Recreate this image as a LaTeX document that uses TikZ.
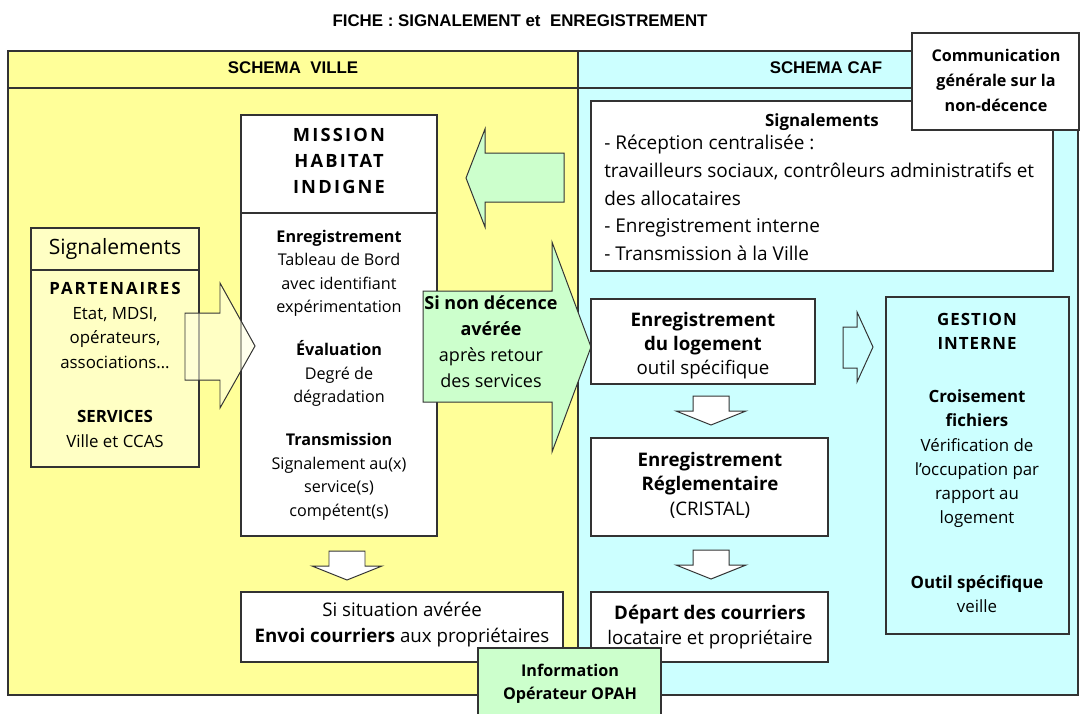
\documentclass[tikz,border=0pt]{standalone}
\usepackage{fontspec}
\setmainfont{Open Sans}
\newfontfamily\titlefont{Liberation Sans}
\usepackage{xcolor}

\definecolor{villeyellow}{HTML}{FFFF99}
\definecolor{cafcyan}{HTML}{CCFFFF}
\definecolor{opahgreen}{HTML}{CCFFCC}
\definecolor{signalyellow}{HTML}{FFFFC4}
\definecolor{edgegray}{HTML}{333333}

\tikzset{
  panel/.style={draw=edgegray, line width=0.9pt},
  box/.style={draw=edgegray, fill=white, line width=0.9pt},
  txt/.style={align=center, inner sep=0pt, font=\fontsize{11.5}{16.7}\selectfont},
  heading/.style={inner sep=0pt, font=\titlefont\bfseries\fontsize{12}{14}\selectfont},
  fatarrow/.style={draw=edgegray, line width=0.7pt, line join=miter},
}

\begin{document}
\begin{tikzpicture}[x=0.025cm, y=-0.025cm]
  \useasboundingbox (0,0) rectangle (1082,713);

  % the two panels
  \draw[panel, fill=villeyellow] (8,51) rectangle (578,695);
  \draw[panel, fill=cafcyan] (578,51) rectangle (1078,695);
  \draw[panel] (8,88) -- (1078,88);

  \node[heading] (title) at (520,21) {FICHE : SIGNALEMENT et\ \ ENREGISTREMENT};
  \node[heading] (ville) at (293,68) {SCHEMA\ \ VILLE};
  \node[heading] (caf) at (826,68) {SCHEMA CAF};

  % ville side
  \draw[box, fill=signalyellow] (31,228) rectangle (199,467);
  \draw[edgegray, line width=0.9pt] (31,270) -- (199,270);
  \node[txt, font=\fontsize{15}{17}\selectfont] (sigville) at (115,249) {Signalements};
  \node[txt, font=\fontsize{12}{17.6}\selectfont] (partners) at (115,365)
    {{\bfseries\addfontfeature{LetterSpace=11}PARTENAIRES}\\Etat, MDSI,\\opérateurs,\\associations…\\[21pt]\textbf{SERVICES}\\Ville et CCAS};

  \draw[box] (241,115) rectangle (437,536);
  \draw[edgegray, line width=0.9pt] (241,213) -- (437,213);
  \node[txt, font=\bfseries\fontsize{13}{18.5}\selectfont\addfontfeature{LetterSpace=12}] (mhi) at (339,161)
    {MISSION\\HABITAT\\INDIGNE};
  \node[txt] (mission) at (339,375)
    {\textbf{Enregistrement}\\Tableau de Bord\\avec identifiant\\expérimentation\\[14pt]\textbf{Évaluation}\\Degré de\\dégradation\\[14pt]\textbf{Transmission}\\Signalement au(x)\\service(s)\\compétent(s)};

  \draw[fatarrow, fill=signalyellow!50!white, fill opacity=0.6]
    (185,313) -- (220,313) -- (220,283) -- (255,346) -- (220,408) -- (220,380) -- (185,380) -- cycle;

  \draw[box] (241,592) rectangle (563,662);
  \node[txt, font=\fontsize{13.3}{18.5}\selectfont] (envoi) at (402,625)
    {Si situation avérée\\\textbf{Envoi courriers} aux propriétaires};

  % down arrows
  \foreach \cx/\ty in {347/551, 711/396, 711/550}
    \draw[fatarrow, fill=white] ({\cx-18},\ty) -- ({\cx+18},\ty) -- ({\cx+18},{\ty+15}) -- ({\cx+35},{\ty+15})
      -- (\cx,{\ty+29}) -- ({\cx-35},{\ty+15}) -- ({\cx-18},{\ty+15}) -- cycle;

  % green arrows between the panels
  \draw[fatarrow, fill=opahgreen]
    (564,153) -- (485,153) -- (485,129) -- (466,178) -- (485,227) -- (485,202) -- (564,202) -- cycle;
  \draw[fatarrow, fill=opahgreen]
    (423,291) -- (552,291) -- (552,242) -- (591,347) -- (552,452) -- (552,402) -- (423,402) -- cycle;
  \node[txt, font=\fontsize{12.8}{18.5}\selectfont] (nondecence) at (491,342)
    {\textbf{Si non décence}\\\textbf{avérée}\\après retour\\des services};

  % caf side
  \draw[box] (591,101) rectangle (1053,271);
  \node[txt, font=\bfseries\fontsize{12}{14}\selectfont] (sigcaf) at (822,122) {Signalements};
  \node[txt, align=left, anchor=west, font=\fontsize{13.5}{19.7}\selectfont] (sigcafbody) at (604,198)
    {- Réception centralisée :\\travailleurs sociaux, contrôleurs administratifs et\\des allocataires\\- Enregistrement interne\\- Transmission à la Ville};

  \draw[box] (912,33) rectangle (1079,130);
  \node[txt, font=\bfseries\fontsize{11.5}{17.8}\selectfont] (comm) at (996,80)
    {Communication\\générale sur la\\non-décence};

  \draw[box] (591,299) rectangle (815,384);
  \node[txt, font=\fontsize{13.3}{17}\selectfont] (logement) at (703,346)
    {\textbf{Enregistrement}\\\textbf{du logement}\\outil spécifique};

  \draw[box] (591,438) rectangle (828,536);
  \node[txt, font=\fontsize{13.3}{17.5}\selectfont] (cristal) at (710,485)
    {\textbf{Enregistrement}\\\textbf{Réglementaire}\\(CRISTAL)};

  \draw[box] (591,592) rectangle (828,662);
  \node[txt, font=\fontsize{13.3}{17.8}\selectfont] (depart) at (710,627)
    {\textbf{Départ des courriers}\\locataire et propriétaire};

  \draw[fatarrow, fill=cafcyan]
    (843,327) -- (857,327) -- (857,312) -- (873,347) -- (857,382) -- (857,368) -- (843,368) -- cycle;

  \draw[box, fill=cafcyan] (886,297) rectangle (1069,634);
  \node[txt, font=\fontsize{12}{17.2}\selectfont] (gestion) at (977,463)
    {{\bfseries\addfontfeature{LetterSpace=6}GESTION}\\{\bfseries\addfontfeature{LetterSpace=6}INTERNE}\\[20.6pt]\textbf{Croisement}\\\textbf{fichiers}\\Vérification de\\l'occupation par\\rapport au\\logement\\[29pt]\textbf{Outil spécifique}\\veille};

  % bottom box across both panels
  \draw[box, fill=opahgreen] (478,648) rectangle (661,725);
  \node[txt, font=\bfseries\fontsize{11.5}{16.4}\selectfont] (opah) at (570,684)
    {Information\\Opérateur OPAH};
\end{tikzpicture}
\end{document}
